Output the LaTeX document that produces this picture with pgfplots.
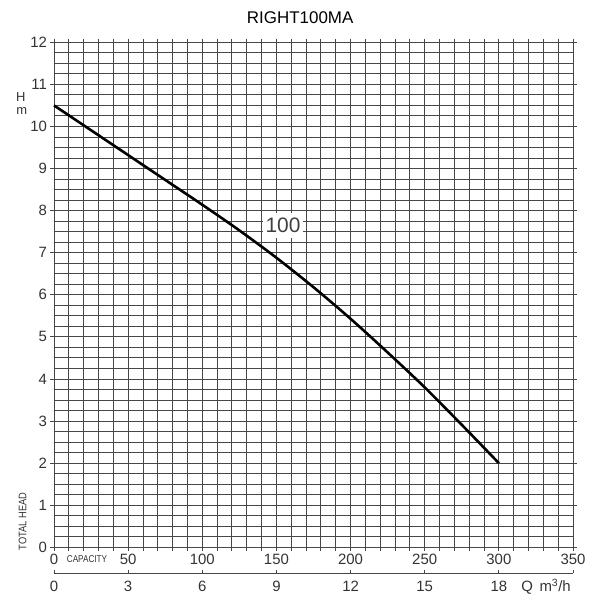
\documentclass[border=0pt]{standalone}
\usepackage{pgfplots}
\pgfplotsset{compat=1.18}
\usepackage{fontspec}
\setmainfont{Liberation Sans}
\begin{document}
\begin{tikzpicture}
\path[use as bounding box] (-54bp,-60.7bp) rectangle (554bp,547.3bp);
\begin{axis}[
  at={(0,0)}, anchor=south west,
  scale only axis, width=519bp, height=505bp,
  xmin=0, xmax=350, ymin=0, ymax=12,
  xtick={0,50,...,350}, minor xtick={0,10,...,350},
  ytick={0,1,...,12}, minor ytick={0,0.25,...,12},
  grid=both,
  major grid style={draw=black!72, line width=0.9bp},
  minor grid style={draw=black!72, line width=0.9bp},
  axis line style={draw=black!72, line width=0.9bp},
  tick align=outside, major tick length=3.5bp, minor tick length=3.5bp,
  tick style={draw=black!72, line width=0.9bp},
  minor y tick style={draw=none},
  ticklabel style={font=\fontsize{15}{15}\selectfont, text=black!80},
  /pgf/number format/assume math mode=true,
  clip=false,
]
\addplot[black, line width=2.6bp, smooth] coordinates {
(0,10.5) (25,9.91) (50,9.32) (75,8.73) (100,8.14) (125,7.53) (150,6.88)
(175,6.18) (200,5.43) (225,4.63) (250,3.80) (275,2.91) (300,2.0)};
\node[fill=white, inner xsep=3bp, inner ysep=5bp, font=\fontsize{21}{21}\selectfont, text=black!75] at (axis cs:154.4,7.64) {100};
\node[font=\fontsize{17}{17}\selectfont] at ([yshift=24.3bp]axis cs:166,12) {RIGHT100MA};
% secondary scale
\draw[black!72, line width=0.9bp] ([yshift=-25.7bp]axis cs:0,0) -- ([yshift=-25.7bp]axis cs:350,0);
\draw[black!72, line width=0.9bp] ([yshift=-25.7bp]axis cs:0,0) -- ++(0,3.5bp);
\draw[black!72, line width=0.9bp] ([yshift=-25.7bp]axis cs:50,0) -- ++(0,3.5bp);
\draw[black!72, line width=0.9bp] ([yshift=-25.7bp]axis cs:100,0) -- ++(0,3.5bp);
\draw[black!72, line width=0.9bp] ([yshift=-25.7bp]axis cs:150,0) -- ++(0,3.5bp);
\draw[black!72, line width=0.9bp] ([yshift=-25.7bp]axis cs:200,0) -- ++(0,3.5bp);
\draw[black!72, line width=0.9bp] ([yshift=-25.7bp]axis cs:250,0) -- ++(0,3.5bp);
\draw[black!72, line width=0.9bp] ([yshift=-25.7bp]axis cs:300,0) -- ++(0,3.5bp);
\draw[black!72, line width=0.9bp] ([yshift=-25.7bp]axis cs:350,0) -- ++(0,3.5bp);
\node[font=\fontsize{15}{15}\selectfont, text=black!80] at ([yshift=-38.7bp]axis cs:0,0) {0};
\node[font=\fontsize{15}{15}\selectfont, text=black!80] at ([yshift=-38.7bp]axis cs:50,0) {3};
\node[font=\fontsize{15}{15}\selectfont, text=black!80] at ([yshift=-38.7bp]axis cs:100,0) {6};
\node[font=\fontsize{15}{15}\selectfont, text=black!80] at ([yshift=-38.7bp]axis cs:150,0) {9};
\node[font=\fontsize{15}{15}\selectfont, text=black!80] at ([yshift=-38.7bp]axis cs:200,0) {12};
\node[font=\fontsize{15}{15}\selectfont, text=black!80] at ([yshift=-38.7bp]axis cs:250,0) {15};
\node[font=\fontsize{15}{15}\selectfont, text=black!80] at ([yshift=-38.7bp]axis cs:300,0) {18};
\end{axis}
\node[font=\fontsize{15}{15}\selectfont, text=black!80] at (492bp,-39.7bp) {Q\, m\textsuperscript{3}/h};
\node[font=\fontsize{10}{10}\selectfont, text=black!80] at (33bp,-11.7bp) {\scalebox{0.82}[1]{CAPACITY}};
\node[font=\fontsize{11}{11}\selectfont, text=black!80, rotate=90] at (-31.3bp,26bp) {\scalebox{0.85}[1]{TOTAL HEAD}};
\node[font=\fontsize{13}{13}\selectfont, text=black!80, inner sep=0pt] at (-33.3bp,450bp) {H};
\node[font=\fontsize{13}{13}\selectfont, text=black!80, inner sep=0pt] at (-32.3bp,436bp) {m};
\end{tikzpicture}
\end{document}
